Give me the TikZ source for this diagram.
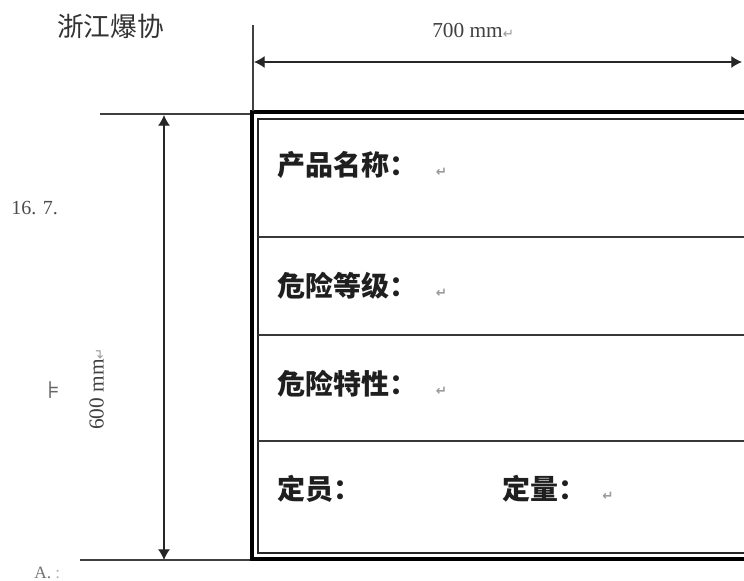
\documentclass[tikz,border=0pt]{standalone}
\usepackage{fontspec}
\setmainfont{Liberation Serif}
\newfontfamily\cjk{Noto Sans CJK SC}
\newfontfamily\symf{DejaVu Sans}
\usetikzlibrary{arrows.meta}
\newcommand{\retmark}{{\symf\fontsize{10pt}{10pt}\selectfont\color{black!40}\raisebox{-0.1ex}{↵}}}
\begin{document}
\begin{tikzpicture}[x=0.75pt,y=-0.75pt,
  dimline/.style={line width=0.9pt,black!85,{Latex[length=8pt,width=9pt]}-{Latex[length=8pt,width=9pt]}},
  extline/.style={line width=0.9pt,black!75},
  rowline/.style={line width=1.5pt,black!78},
  lbl/.style={anchor=west,inner sep=0pt,text=black!88,font=\cjk\bfseries\fontsize{21pt}{21pt}\selectfont},
  dimtxt/.style={inner sep=0pt,text=black!75,font=\fontsize{16pt}{16pt}\selectfont},
  note/.style={inner sep=0pt,text=black!70}]
\useasboundingbox (0,0) rectangle (744,581);
\fill[white] (0,0) rectangle (744,581);

% table borders
\draw[line width=3pt,black] (760,112) -- (252,112) -- (252,559) -- (760,559);
\draw[line width=0.9pt,black!85] (760,119) -- (258,119) -- (258,553) -- (760,553);
\draw[rowline] (258,237) -- (760,237);
\draw[rowline] (258,335) -- (760,335);
\draw[rowline] (258,441) -- (760,441);

% extension lines
\coordinate (vtop) at (253,25);
\coordinate (vbot) at (253,111);
\coordinate (htl) at (100,114);
\coordinate (htr) at (250,114);
\coordinate (hbl) at (80,560);
\coordinate (hbr) at (250,560);
\draw[extline] (vtop) -- (vbot);
\draw[extline] (htl) -- (htr);
\draw[extline] (hbl) -- (hbr);

% dimension lines
\coordinate (wl) at (254,62);
\coordinate (wr) at (742,62);
\coordinate (ht) at (164,115);
\coordinate (hb) at (164,560);
\draw[dimline] (wl) -- (wr);
\draw[dimline] (ht) -- (hb);

% dimension texts
\node[dimtxt,anchor=west] (w700) at (432,31) {700 mm\retmark};
\node[dimtxt,rotate=90,anchor=west] (h600) at (97,430) {600 mm\retmark};

% title and marginal fragments
\node[inner sep=0pt,anchor=west,text=black!80,font=\cjk\fontsize{20pt}{20pt}\selectfont] (title) at (57,26) {浙江爆协};
\node[note,anchor=west,font=\fontsize{15pt}{15pt}\selectfont] (n167) at (11,208) {16. 7.};
\node[note,anchor=west,font=\symf\fontsize{18pt}{18pt}\selectfont,text=black!60] (nf) at (47,390) {⊧};
\node[note,anchor=west,font=\fontsize{13pt}{13pt}\selectfont,text=black!55] (na) at (34,573) {A. {\color{black!30}:}};

% labels
\node[lbl] (name) at (277,165) {产品名称：\hspace{14pt}\retmark};
\node[lbl] (grade) at (277,286) {危险等级：\hspace{14pt}\retmark};
\node[lbl] (prop) at (277,384) {危险特性：\hspace{14pt}\retmark};
\node[lbl] (staff) at (277,489) {定员：};
\node[lbl] (qty) at (502,489) {定量：\hspace{12pt}\retmark};
\end{tikzpicture}
\end{document}
